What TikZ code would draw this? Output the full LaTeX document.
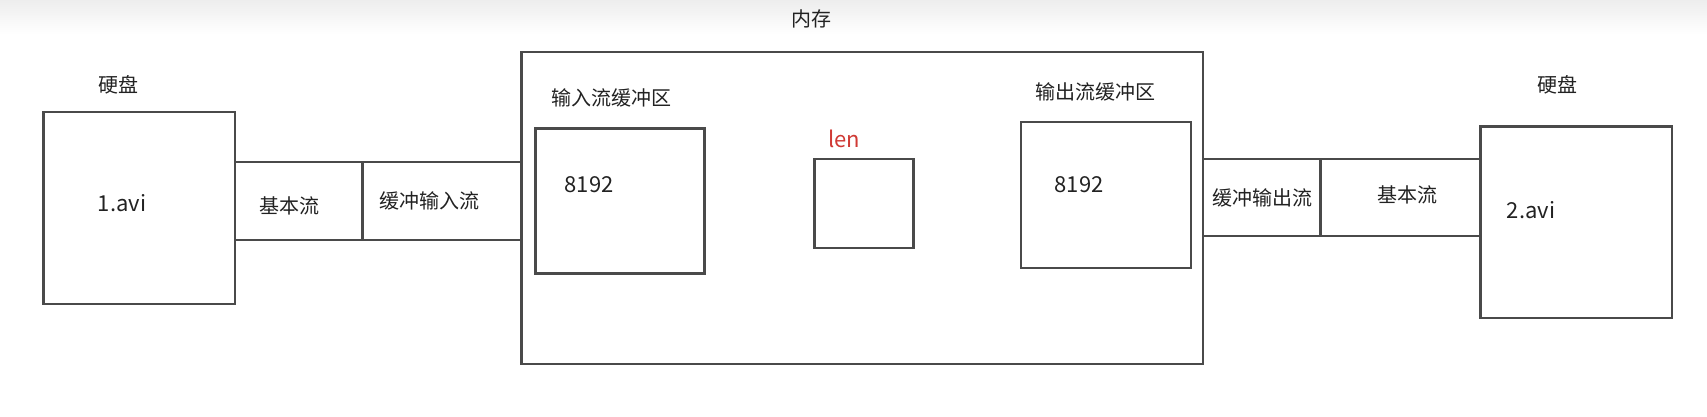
\documentclass[tikz,border=0pt]{standalone}
\usepackage{fontspec}
\setmainfont{Noto Sans CJK SC}
\usetikzlibrary{fit}
\definecolor{linegray}{HTML}{4A4A4A}
\definecolor{lenred}{HTML}{D03A35}
\definecolor{txt}{HTML}{222222}
\tikzset{
  boxst/.style={draw=linegray, line width=1.1pt, inner sep=0pt, fill=none},
  cn/.style={font=\fontsize{10pt}{12pt}\selectfont, text=txt, inner sep=0pt},
  num/.style={font=\fontsize{11pt}{13pt}\selectfont, text=txt, inner sep=0pt}
}
\begin{document}
\begin{tikzpicture}[x=0.5pt,y=-0.5pt]
\useasboundingbox (0,0) rectangle (1707,417);
\shade[top color=black!7, bottom color=white] (0,0) rectangle (1707,34);
\fill[white] (0,34) rectangle (1707,417);
% memory
\node[cn] (memlbl) at (811,19) {内存};
\node[boxst, fit={(521.5,52)(1203,364)}] (mem) {};
% left disk
\node[cn] (disk1lbl) at (118,85) {硬盘};
\node[boxst, fit={(43.5,112)(235,304)}] (disk1) {};
\node[num] (f1) at (122,203) {1.avi};
% left strip
\node[boxst, fit={(235,162)(362.5,240)}] (basic1) {};
\node[boxst, fit={(362.5,162)(521.5,240)}] (bufin) {};
\node[cn] at (289.5,206) {基本流};
\node[cn] at (429,201) {缓冲输入流};
% input buffer
\node[cn] (inlbl) at (611,98) {输入流缓冲区};
\node[boxst, fit={(535.5,128.5)(704.5,273.5)}] (inbuf) {};
\node[num] at (589,185) {8192};
% len
\node[font=\fontsize{11pt}{13pt}\selectfont, text=lenred, inner sep=0pt] (lenlbl) at (844,139) {len};
\node[boxst, fit={(814.5,159)(913.5,248)}] (len) {};
% output buffer
\node[cn] (outlbl) at (1095,91.5) {输出流缓冲区};
\node[boxst, fit={(1021,122)(1191,268)}] (outbuf) {};
\node[num] at (1079,185) {8192};
% right strip
\node[boxst, fit={(1203,159)(1320.5,236)}] (bufout) {};
\node[boxst, fit={(1320.5,159)(1480.5,236)}] (basic2) {};
\node[cn] at (1262,198) {缓冲输出流};
\node[cn] at (1407.5,195) {基本流};
% right disk
\node[cn] (disk2lbl) at (1557,85) {硬盘};
\node[boxst, fit={(1480.5,126.5)(1672,318)}] (disk2) {};
\node[num] (f2) at (1531,210) {2.avi};
\end{tikzpicture}
\end{document}
